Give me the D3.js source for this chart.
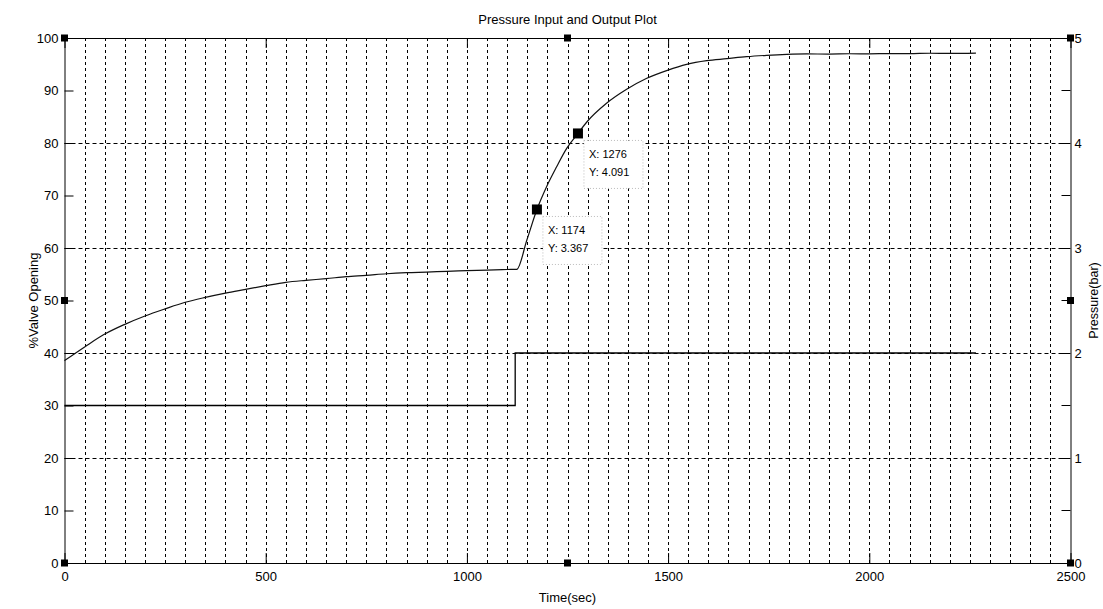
<!DOCTYPE html>
<html><head><meta charset="utf-8">
<script src="https://cdn.jsdelivr.net/npm/d3@7"></script>
<style>body{margin:0;background:#fff}svg{display:block}text{font-family:"Liberation Sans",Arial,sans-serif;fill:#000}</style>
</head><body><svg id="c" width="1103" height="609"></svg>
<script>
// ---- data ----
const outTime = [0,51,100,150,200,250,300,350,400,450,500,550,600,650,700,750,800,850,900,950,1000,1050,1100,1124,1149,1174,1198,1223,1248,1276,1298,1347,1397,1447,1498,1546,1596,1646,1695,1745,1795,1844,1900,1950,2000,2050,2100,2150,2200,2265];
const outBar  = [1.927,2.06,2.18,2.273,2.352,2.42,2.483,2.53,2.571,2.606,2.641,2.673,2.692,2.708,2.727,2.74,2.755,2.765,2.771,2.778,2.784,2.79,2.795,2.797,3.076,3.367,3.584,3.774,3.949,4.091,4.2,4.378,4.511,4.616,4.692,4.749,4.784,4.803,4.822,4.835,4.844,4.848,4.847,4.85,4.849,4.852,4.851,4.855,4.853,4.856];
const inTime = [0,1120,1120,2265];
const inPct  = [30,30,40,40];
const xTicks = [0,500,1000,1500,2000,2500];
const leftTicks = [0,10,20,30,40,50,60,70,80,90,100];
const rightTicks = [0,1,2,3,4,5];
const rightMinor = [0.5,1.5,2.5,3.5,4.5];
const tips = [{t:1174,v:3.367},{t:1276,v:4.091}];
const title = "Pressure Input and Output Plot";

// ---- layout ----
const L=64.5, R=1070.5, T=38, B=563;
const x = d3.scaleLinear().domain([0,2500]).range([L,R]);
const yL = d3.scaleLinear().domain([0,100]).range([B,T]);
const yR = d3.scaleLinear().domain([0,5]).range([B,T]);
const svg = d3.select("#c");

// grid
const g = svg.append("g");
g.selectAll("line.v").data(d3.range(50,2500,50)).join("line")
  .attr("x1",d=>Math.round(x(d))+0.5).attr("x2",d=>Math.round(x(d))+0.5)
  .attr("y1",T).attr("y2",B).attr("stroke","#000").attr("stroke-dasharray","3,3");
g.selectAll("line.h").data([1,2,3,4]).join("line")
  .attr("x1",L).attr("x2",R).attr("y1",d=>Math.round(yR(d))+0.5).attr("y2",d=>Math.round(yR(d))+0.5)
  .attr("stroke","#000").attr("stroke-dasharray","4,3");

// axes
const axL = d3.axisLeft(yL).tickValues(leftTicks).tickSizeInner(-9).tickSizeOuter(0).tickPadding(6);
const axR = d3.axisRight(yR).tickValues(rightTicks).tickSizeInner(-9).tickSizeOuter(0).tickPadding(4).tickFormat(d3.format("d"));
const axB = d3.axisBottom(x).tickValues(xTicks).tickSizeInner(-10).tickSizeOuter(0).tickPadding(9).tickFormat(d3.format("d"));
const axT = d3.axisTop(x).tickValues(xTicks).tickSizeInner(-10).tickSizeOuter(0).tickFormat("");
function style(sel){sel.selectAll("text").style("font-size","13px");sel.select(".domain").attr("stroke","#000");sel.selectAll("line").attr("stroke","#000");}
svg.append("g").attr("transform",`translate(${L},0)`).call(axL).call(style);
svg.append("g").attr("transform",`translate(${R},0)`).call(axR).call(style);
svg.append("g").attr("transform",`translate(0,${B})`).call(axB).call(style);
svg.append("g").attr("transform",`translate(0,${T})`).call(axT).call(style);
svg.append("g").selectAll("line").data(rightMinor).join("line")
  .attr("x1",R-9).attr("x2",R).attr("y1",d=>yR(d)).attr("y2",d=>yR(d)).attr("stroke","#000");

// input step
svg.append("path").datum(inTime.map((t,i)=>[t,inPct[i]]))
  .attr("d",d3.line().x(d=>x(d[0])).y(d=>yL(d[1])))
  .attr("fill","none").attr("stroke","#000").attr("stroke-width",1.3);
// output
svg.append("path").datum(outTime.map((t,i)=>[t,outBar[i]]))
  .attr("d",d3.line().x(d=>x(d[0])).y(d=>yR(d[1])).curve(d3.curveMonotoneX))
  .attr("fill","none").attr("stroke","#111").attr("stroke-width",1.2);

// datatips
tips.forEach(p=>{
  const px=x(p.t), py=yR(p.v);
  const bx=px+6, by=py+7;
  svg.append("rect").attr("x",bx).attr("y",by).attr("width",59).attr("height",48)
    .attr("fill","#fff").attr("stroke","#bbb").attr("stroke-dasharray","1,2");
  svg.append("text").attr("x",bx+5).attr("y",by+18).style("font-size","11px").text("X: "+p.t);
  svg.append("text").attr("x",bx+5).attr("y",by+36).style("font-size","11px").text("Y: "+p.v.toFixed(3));
  svg.append("rect").attr("x",px-5).attr("y",py-5).attr("width",10).attr("height",10).attr("fill","#000");
});

// selection handles
[[0,0],[1250,0],[2500,0],[0,50],[2500,50],[0,100],[1250,100],[2500,100]].forEach(([t,v])=>{
  svg.append("rect").attr("x",x(t)-3.5).attr("y",yL(v)-3.5).attr("width",7).attr("height",7).attr("fill","#000");
});

// labels
svg.append("text").attr("x",(L+R)/2).attr("y",24).attr("text-anchor","middle").style("font-size","13px").text(title);
svg.append("text").attr("x",(L+R)/2).attr("y",602).attr("text-anchor","middle").style("font-size","13px").text("Time(sec)");
svg.append("text").attr("transform",`translate(38,${(T+B)/2}) rotate(-90)`).attr("text-anchor","middle").style("font-size","13px").text("%Valve Opening");
svg.append("text").attr("transform",`translate(1098,${(T+B)/2}) rotate(-90)`).attr("text-anchor","middle").style("font-size","12.5px").text("Pressure(bar)");
</script></body></html>
